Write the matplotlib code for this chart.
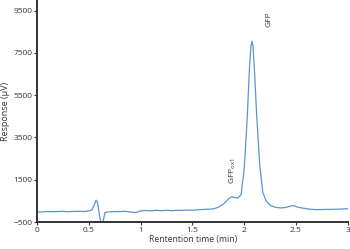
import numpy as np
import matplotlib.pyplot as plt

# chromatogram points (min, uV)
time_min = [0.00, 0.05, 0.10, 0.15, 0.20, 0.25, 0.30, 0.35, 0.40, 0.45, 0.50,
            0.53, 0.555, 0.57, 0.585, 0.60, 0.615, 0.625, 0.64, 0.655, 0.68,
            0.72, 0.80, 0.85, 0.90, 0.95, 1.00, 1.05, 1.10, 1.15, 1.20, 1.25,
            1.30, 1.35, 1.40, 1.45, 1.50, 1.55, 1.60, 1.65, 1.70, 1.75, 1.80,
            1.85, 1.88, 1.91, 1.94, 1.97, 2.00, 2.03, 2.05, 2.065, 2.075,
            2.085, 2.10, 2.12, 2.15, 2.18, 2.21, 2.25, 2.30, 2.35, 2.40, 2.45,
            2.48, 2.52, 2.58, 2.65, 2.70, 2.80, 2.90, 3.00]
response = [-30, -20, 0, -5, 0, 10, -10, 5, 10, 0, 30,
            80, 350, 540, 400, -100, -500, -650, -400, -60, -20,
            -10, 0, 10, -20, -50, 30, 50, 30, 60, 40, 60,
            40, 60, 50, 70, 60, 80, 100, 110, 120, 200, 350,
            600, 700, 660, 640, 800, 2000, 4500, 6700, 7800, 8050,
            7850, 6600, 4600, 2200, 900, 520, 300, 200, 170, 190, 260,
            280, 200, 150, 100, 90, 100, 110, 130]

x_ticks = [0, 0.5, 1, 1.5, 2, 2.5, 3]
y_ticks = [-500, 1500, 3500, 5500, 7500, 9500]

plt.rcParams['font.family'] = ['Open Sans', 'DejaVu Sans']

fig = plt.figure(figsize=(3.5, 2.49), dpi=100)
ax = fig.add_axes([0.106, 0.108, 0.889, 0.892])

ax.plot(time_min, response, color='#5b95cf', linewidth=0.9)

ax.set_xlim(0, 3.005)
ax.set_ylim(-500, 10000)
ax.set_xticks(x_ticks)
ax.set_xticklabels(['0', '0.5', '1', '1.5', '2', '2.5', '3'])
ax.set_yticks(y_ticks)

for side in ['top', 'right']:
    ax.spines[side].set_visible(False)
for side in ['left', 'bottom']:
    ax.spines[side].set_color('#333333')
    ax.spines[side].set_linewidth(1.4)

ax.tick_params(direction='out', length=2, width=0.8, colors='#333333',
               labelsize=6, pad=1.5)
ax.set_xlabel('Rentention time (min)', fontsize=6.2, color='#333333', labelpad=1)
ax.set_ylabel('Response (µV)', fontsize=6.5, color='#333333', labelpad=2)

ax.text(2.235, 9100, 'GFP', rotation=90, fontsize=6, color='#333333',
        ha='center', va='center')
ax.text(1.89, 1900, r'GFP$_{\mathregular{ox1}}$', rotation=90, fontsize=6,
        color='#333333', ha='center', va='center')

fig.savefig('out.png', dpi=100)
